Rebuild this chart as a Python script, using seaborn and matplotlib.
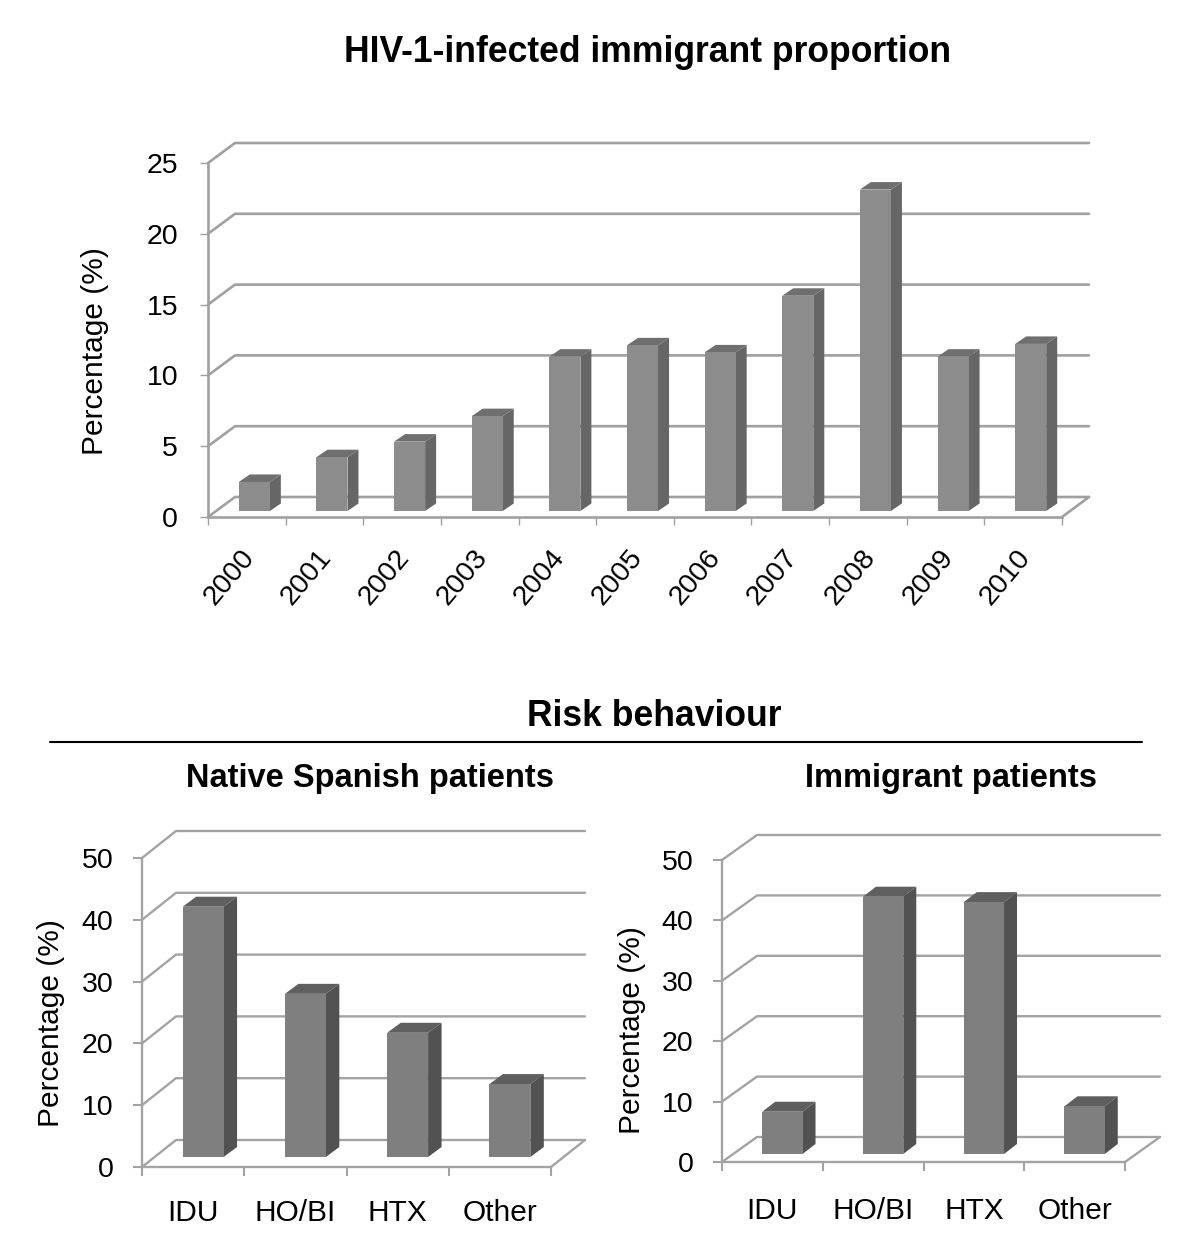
import matplotlib
matplotlib.use("Agg")
import matplotlib.pyplot as plt
import pandas as pd
import seaborn as sns
from matplotlib.patches import Polygon
from matplotlib.transforms import ScaledTranslation

years = ["2000", "2001", "2002", "2003", "2004", "2005", "2006", "2007", "2008", "2009", "2010"]
immigrant_pct = [2.05, 3.8, 4.9, 6.7, 10.9, 11.7, 11.2, 15.2, 22.7, 10.9, 11.8]
risk_groups = ["IDU", "HO/BI", "HTX", "Other"]
native_risk = [40.5, 26.4, 20.1, 11.8]
immigrant_risk = [7.0, 42.6, 41.7, 7.9]
W, H = 1200, 1259

sns.set_style("white")
plt.rcParams["font.family"] = ["Liberation Sans", "DejaVu Sans"]
plt.rcParams.update({"text.color": "black", "axes.labelcolor": "black",
                     "xtick.color": "black", "ytick.color": "black"})


def bar3d_panel(fig, box, cats, values, ymax, step, wall, shift, depth, faces, line, lw, tick_w, tick_len, pad, label_x, label_y):
    """Draw one fake-3D bar panel. box is left, top, right, bottom in pixels."""
    left, top, right, bottom = box
    ax = fig.add_axes([left / W, 1 - bottom / H, (right - left) / W, (bottom - top) / H])
    df = pd.DataFrame({"cat": cats, "val": values})
    sns.barplot(data=df, x="cat", y="val", color=faces[0], saturation=1, width=0.4, ax=ax, zorder=4, linewidth=0)
    n = len(cats)
    ax.set_xlim(-0.5, n - 0.5)
    ax.set_ylim(0, ymax)
    sx = n / (right - left)
    sy = ymax / (bottom - top)

    # back wall lines, floor included
    wx, wy = wall[0] * sx, wall[1] * sy
    for v in range(0, ymax + 1, step):
        ax.plot([-0.5, -0.5 + wx, n - 0.5 + wx], [v, v + wy, v + wy], color=line, lw=lw, clip_on=False, zorder=1)
    ax.plot([n - 0.5 + wx, n - 0.5], [wy, 0], color=line, lw=lw, clip_on=False, zorder=1)

    # move bars onto the floor, then add their top and side faces
    dx, dy = depth[0] * sx, depth[1] * sy
    for bar in ax.patches[:n]:
        bar.set_x(bar.get_x() + shift[0] * sx)
        bar.set_y(shift[1] * sy)
        x0, x1 = bar.get_x(), bar.get_x() + bar.get_width()
        y0, y1 = bar.get_y(), bar.get_y() + bar.get_height()
        ax.add_patch(Polygon([(x0, y1), (x1, y1), (x1 + dx, y1 + dy), (x0 + dx, y1 + dy)],
                             color=faces[1], lw=0, clip_on=False, zorder=3))
        ax.add_patch(Polygon([(x1, y0), (x1 + dx, y0 + dy), (x1 + dx, y1 + dy), (x1, y1)],
                             color=faces[2], lw=0, clip_on=False, zorder=3))
        bar.set_clip_on(False)

    sns.despine(ax=ax)
    for side in ["left", "bottom"]:
        ax.spines[side].set_color(line)
        ax.spines[side].set_linewidth(lw)
    ax.set_yticks(range(0, ymax + 1, step))
    ax.set_xticks([i - 0.5 for i in range(n + 1)], minor=True)
    ax.tick_params(axis="x", which="minor", length=tick_len, width=tick_w, color=line, bottom=True)
    ax.tick_params(axis="x", which="major", length=0)
    ax.tick_params(axis="y", length=tick_len, width=tick_w, color=line, left=True, pad=pad)
    ax.set_xlabel("")
    ax.set_ylabel("Percentage (%)", fontsize=21.5)
    ax.yaxis.set_label_coords((label_x - left) / (right - left), (bottom - label_y) / (bottom - top))
    return ax


fig = plt.figure(figsize=(W / 100, H / 100), dpi=100)

ax = bar3d_panel(fig, (208, 163, 1062, 517), years, immigrant_pct, 25, 5, (27, 20), (7.5, 6), (11, 7.5),
                 ("#8c8c8c", "#6f6f6f", "#666666"), "#a0a0a0", 1.9, 1, 6, 15.5, 109, 351)
ax.tick_params(axis="y", labelsize=20.5)
ax.tick_params(axis="x", which="major", labelsize=20.5, pad=20)
nudge = ScaledTranslation(-7 / 100, 0, fig.dpi_scale_trans)
for label in ax.get_xticklabels():
    label.set(rotation=50, ha="right", rotation_mode="anchor")
    label.set_transform(label.get_transform() + nudge)

ax = bar3d_panel(fig, (142, 858, 551, 1167), risk_groups, native_risk, 50, 10, (34, 27), (10, 10), (13.5, 10),
                 ("#7f7f7f", "#5f5f5f", "#525252"), "#a3a3a3", 1.7, 1.5, 6.5, 14, 65, 1023)
ax.tick_params(axis="y", labelsize=20.5)
ax.tick_params(axis="x", which="major", labelsize=21.5, pad=23)

ax = bar3d_panel(fig, (722, 860, 1125, 1162), risk_groups, immigrant_risk, 50, 10, (35, 25), (10, 8), (13, 10),
                 ("#7f7f7f", "#5f5f5f", "#525252"), "#a3a3a3", 1.7, 1.5, 6.5, 14, 646, 1030)
ax.tick_params(axis="y", labelsize=20.5)
ax.tick_params(axis="x", which="major", labelsize=21.5, pad=25)

for txt, x, y, size in [("HIV-1-infected immigrant proportion", 648, 52, 25.6),
                        ("Risk behaviour", 654, 717, 25.6),
                        ("Native Spanish patients", 370, 779, 23.5),
                        ("Immigrant patients", 951, 779, 23.5)]:
    fig.text(x / W, 1 - y / H, txt, fontsize=size, fontweight="bold", ha="center", va="center")
fig.add_artist(plt.Line2D([50 / W, 1142 / W], [1 - 742 / H, 1 - 742 / H], color="black", lw=1.5))

fig.savefig("out.png", dpi=100)
